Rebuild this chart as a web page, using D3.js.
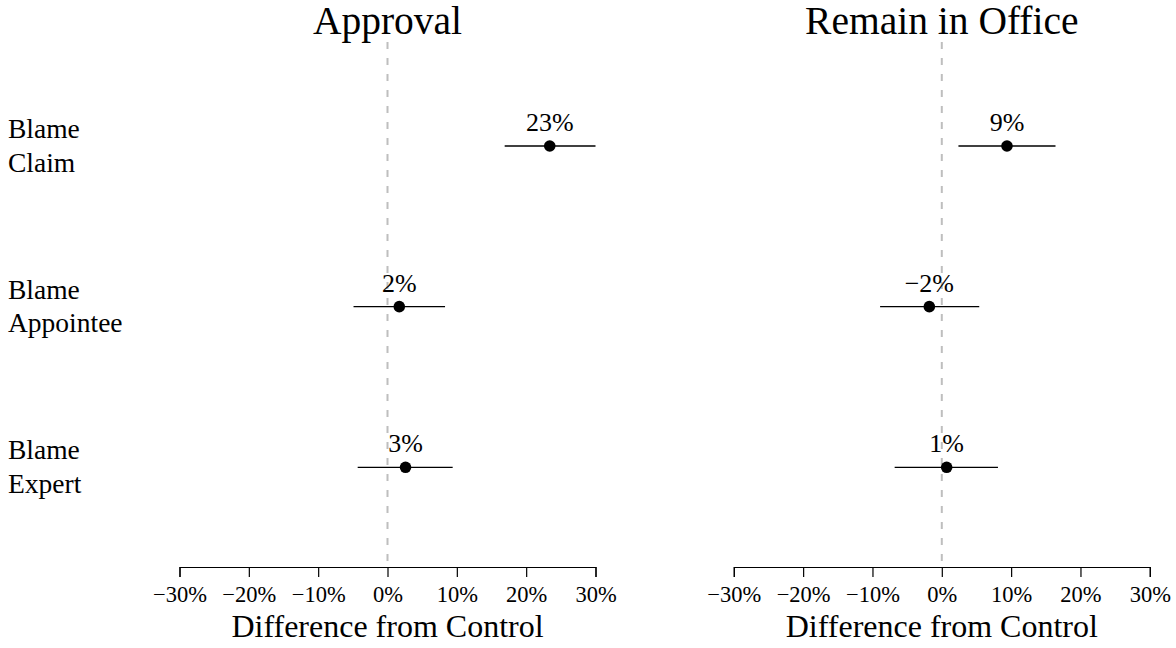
<!DOCTYPE html>
<html>
<head>
<meta charset="utf-8">
<script src="https://cdn.jsdelivr.net/npm/d3@7"></script>
<style>
  html, body { margin: 0; padding: 0; background: #fff; }
  svg { display: block; font-family: "Liberation Serif", "Times New Roman", serif; }
  svg text { font-family: "Liberation Serif", "Times New Roman", serif; }
</style>
</head>
<body>
<svg id="chart" width="1176" height="648"></svg>
<script>
// Treatment conditions, top to bottom
const conditions = ["Blame\nClaim", "Blame\nAppointee", "Blame\nExpert"];

// Panel titles
const panelTitles = ["Approval", "Remain in Office"];

// Estimated differences from control (percentage points) and 95% intervals
const approvalEst   = [23.4, 1.7, 2.6];
const approvalLow   = [16.9, -4.9, -4.3];
const approvalHigh  = [30.0, 8.3, 9.4];

const remainEst     = [9.4, -1.8, 0.7];
const remainLow     = [2.4, -8.9, -6.8];
const remainHigh    = [16.4, 5.4, 8.1];

// Axis ticks
const tickValues = [-30, -20, -10, 0, 10, 20, 30];
const axisTitle = "Difference from Control";

const panels = [
  { title: panelTitles[0], est: approvalEst, low: approvalLow, high: approvalHigh, x0: 179.5, x1: 595.5 },
  { title: panelTitles[1], est: remainEst,   low: remainLow,   high: remainHigh,   x0: 733.8, x1: 1149.8 }
];

const svg = d3.select("#chart");
const fmt = v => (v < 0 ? "\u2212" : "") + Math.abs(v) + "%";

const y = d3.scalePoint().domain(conditions).range([146, 467.3]);
const axisY = 567;

// Row labels on the left
const rowLabels = svg.append("g");
conditions.forEach(c => {
  const lines = c.split("\n");
  const t = rowLabels.append("text")
    .attr("x", 8)
    .attr("y", y(c) - 8)
    .attr("font-size", 27.5)
    .attr("fill", "#000");
  lines.forEach((ln, i) => {
    t.append("tspan").attr("x", 8).attr("dy", i === 0 ? 0 : 33.5).text(ln);
  });
});

panels.forEach(p => {
  const x = d3.scaleLinear().domain([-30, 30]).range([p.x0, p.x1]);
  const g = svg.append("g");

  // Reference line at zero
  g.append("line")
    .attr("x1", x(0)).attr("x2", x(0))
    .attr("y1", 42).attr("y2", axisY)
    .attr("stroke", "#bebebe")
    .attr("stroke-width", 2)
    .attr("stroke-dasharray", "7,9");

  // Title
  g.append("text")
    .attr("x", x(0)).attr("y", 33.5)
    .attr("text-anchor", "middle")
    .attr("font-size", 39.5)
    .text(p.title);

  // Axis
  const axis = d3.axisBottom(x).tickValues(tickValues).tickSize(10).tickPadding(6).tickFormat(fmt);
  const ag = g.append("g").attr("transform", `translate(0,${axisY})`).call(axis);
  ag.attr("font-family", null);
  ag.select(".domain").attr("stroke", "#000").attr("stroke-width", 1.2);
  ag.selectAll(".tick line").attr("stroke", "#000").attr("stroke-width", 1.2);
  ag.selectAll(".tick text")
    .attr("font-size", 22.5)
    .attr("fill", "#000")
    .attr("dy", null)
    .attr("y", 34.5);

  g.append("text")
    .attr("x", x(0)).attr("y", 636.5)
    .attr("text-anchor", "middle")
    .attr("font-size", 32)
    .text(axisTitle);

  // Interval lines, points and value labels
  conditions.forEach((c, i) => {
    g.append("line")
      .attr("x1", x(p.low[i])).attr("x2", x(p.high[i]))
      .attr("y1", y(c)).attr("y2", y(c))
      .attr("stroke", "#000").attr("stroke-width", 1.3);
    g.append("circle")
      .attr("cx", x(p.est[i])).attr("cy", y(c))
      .attr("r", 5.8).attr("fill", "#000");
    g.append("text")
      .attr("x", x(p.est[i])).attr("y", y(c) - 15)
      .attr("text-anchor", "middle")
      .attr("font-size", 26)
      .text(fmt(Math.round(p.est[i])));
  });
});
</script>
</body>
</html>
